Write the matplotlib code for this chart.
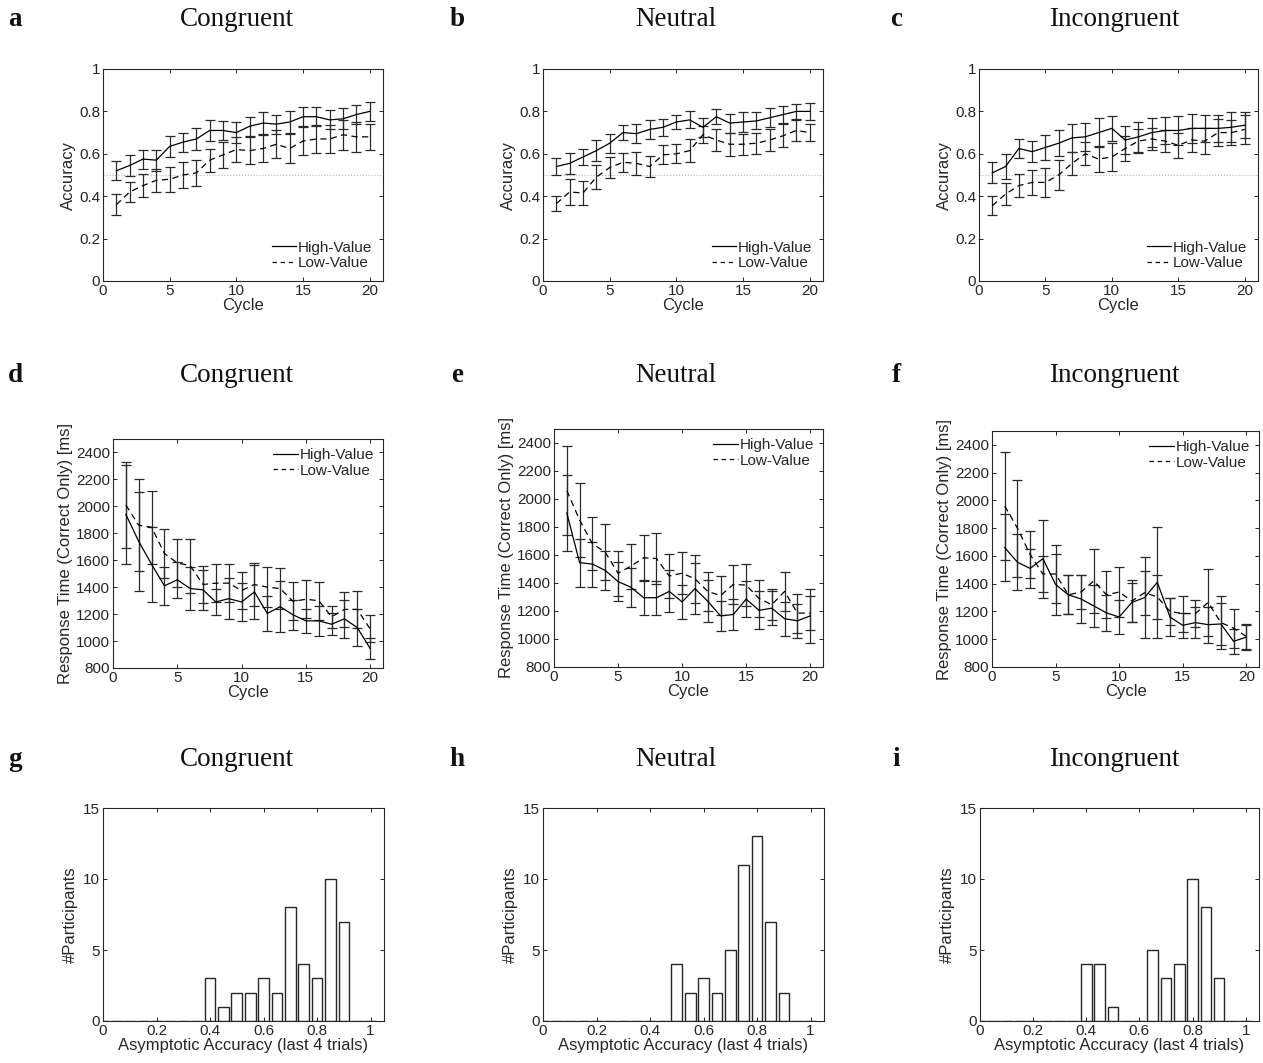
import matplotlib
matplotlib.use("Agg")
import matplotlib.pyplot as plt
import numpy as np

plt.rcParams['font.family'] = ['Liberation Sans', 'DejaVu Sans']

W, H = 1263, 1063
cycles = list(range(1, 21))

# ---------------- Accuracy data ----------------
acc_cong_high = [0.52, 0.545, 0.575, 0.57, 0.635, 0.655, 0.67, 0.71, 0.71, 0.70,
                 0.73, 0.745, 0.74, 0.75, 0.775, 0.775, 0.76, 0.765, 0.785, 0.80]
acc_cong_high_err = [0.045, 0.05, 0.045, 0.05, 0.05, 0.045, 0.05, 0.05, 0.045, 0.05,
                     0.045, 0.05, 0.045, 0.05, 0.045, 0.045, 0.045, 0.05, 0.045, 0.045]
acc_cong_low = [0.36, 0.42, 0.45, 0.475, 0.48, 0.50, 0.51, 0.57, 0.595, 0.62,
                0.615, 0.625, 0.645, 0.625, 0.66, 0.67, 0.67, 0.69, 0.68, 0.68]
acc_cong_low_err = [0.05, 0.045, 0.055, 0.055, 0.06, 0.06, 0.06, 0.055, 0.06, 0.06,
                    0.065, 0.065, 0.065, 0.07, 0.065, 0.065, 0.065, 0.07, 0.07, 0.06]

acc_neut_high = [0.54, 0.555, 0.585, 0.615, 0.65, 0.70, 0.695, 0.715, 0.725, 0.75,
                 0.76, 0.725, 0.775, 0.745, 0.75, 0.755, 0.77, 0.785, 0.80, 0.80]
acc_neut_high_err = [0.04, 0.05, 0.04, 0.05, 0.045, 0.035, 0.045, 0.045, 0.04, 0.035,
                     0.04, 0.045, 0.035, 0.045, 0.045, 0.04, 0.045, 0.04, 0.035, 0.04]
acc_neut_low = [0.365, 0.42, 0.415, 0.49, 0.535, 0.56, 0.555, 0.54, 0.595, 0.60,
                0.615, 0.69, 0.665, 0.645, 0.645, 0.65, 0.665, 0.685, 0.71, 0.70]
acc_neut_low_err = [0.035, 0.06, 0.055, 0.055, 0.05, 0.045, 0.055, 0.05, 0.045, 0.045,
                    0.055, 0.04, 0.05, 0.055, 0.05, 0.05, 0.05, 0.055, 0.05, 0.04]

acc_inc_high = [0.51, 0.54, 0.625, 0.61, 0.63, 0.65, 0.675, 0.68, 0.70, 0.72,
                0.665, 0.68, 0.70, 0.71, 0.71, 0.72, 0.72, 0.72, 0.725, 0.735]
acc_inc_high_err = [0.05, 0.06, 0.045, 0.05, 0.06, 0.06, 0.065, 0.065, 0.07, 0.06,
                    0.065, 0.07, 0.07, 0.065, 0.07, 0.07, 0.065, 0.065, 0.07, 0.06]
acc_inc_low = [0.355, 0.41, 0.45, 0.465, 0.465, 0.50, 0.555, 0.60, 0.575, 0.585,
               0.625, 0.66, 0.67, 0.66, 0.64, 0.665, 0.66, 0.70, 0.70, 0.715]
acc_inc_low_err = [0.045, 0.05, 0.055, 0.06, 0.07, 0.07, 0.055, 0.055, 0.06, 0.065,
                   0.06, 0.055, 0.05, 0.05, 0.06, 0.055, 0.06, 0.065, 0.06, 0.07]

# ---------------- Response time data ----------------
rt_cong_high = [1940, 1740, 1570, 1410, 1455, 1390, 1380, 1290, 1315, 1290,
                1365, 1205, 1255, 1195, 1150, 1150, 1125, 1165, 1100, 945]
rt_cong_high_err = [370, 370, 280, 140, 135, 160, 150, 100, 150, 140,
                    200, 130, 190, 110, 90, 110, 80, 140, 140, 80]
rt_cong_low = [2010, 1860, 1845, 1650, 1580, 1560, 1420, 1430, 1430, 1375,
               1420, 1400, 1390, 1295, 1310, 1300, 1180, 1235, 1235, 1090]
rt_cong_low_err = [320, 340, 270, 180, 180, 200, 140, 140, 140, 140,
                   160, 150, 150, 140, 140, 140, 80, 130, 140, 100]

rt_neut_high = [1900, 1545, 1535, 1490, 1410, 1370, 1295, 1295, 1340, 1265,
                1360, 1270, 1165, 1175, 1285, 1205, 1220, 1145, 1130, 1165]
rt_neut_high_err = [270, 170, 160, 140, 140, 140, 120, 120, 150, 120,
                    180, 150, 110, 110, 130, 135, 120, 120, 120, 190]
rt_neut_low = [2060, 1850, 1680, 1620, 1470, 1520, 1580, 1575, 1450, 1470,
               1430, 1340, 1310, 1390, 1385, 1290, 1245, 1340, 1185, 1185]
rt_neut_low_err = [320, 265, 190, 200, 160, 160, 160, 180, 160, 150,
                   170, 140, 140, 140, 150, 130, 110, 140, 140, 120]

rt_inc_high = [1660, 1555, 1510, 1580, 1395, 1320, 1290, 1240, 1190, 1160,
               1265, 1300, 1410, 1160, 1100, 1120, 1105, 1110, 985, 1015]
rt_inc_high_err = [240, 200, 140, 280, 220, 140, 170, 150, 130, 120,
                   140, 290, 400, 140, 90, 110, 130, 150, 90, 90]
rt_inc_low = [1960, 1800, 1610, 1470, 1470, 1320, 1340, 1420, 1320, 1340,
              1275, 1335, 1305, 1200, 1185, 1185, 1265, 1120, 1080, 1020]
rt_inc_low_err = [390, 350, 170, 130, 210, 140, 120, 230, 170, 180,
                  150, 160, 160, 100, 130, 100, 240, 190, 140, 90]

# ---------------- Histogram data ----------------
bin_centers = [0.00, 0.05, 0.10, 0.15, 0.20, 0.25, 0.30, 0.35, 0.40, 0.45, 0.50,
               0.55, 0.60, 0.65, 0.70, 0.75, 0.80, 0.85, 0.90, 0.95, 1.00]
hist_cong = [0, 0, 0, 0, 0, 0, 0, 0, 3, 1, 2, 2, 3, 2, 8, 4, 3, 10, 7, 0, 0]
hist_neut = [0, 0, 0, 0, 0, 0, 0, 0, 0, 0, 4, 2, 3, 2, 5, 11, 13, 7, 2, 0, 0]
hist_inc = [0, 0, 0, 0, 0, 0, 0, 0, 4, 4, 1, 0, 0, 5, 3, 4, 10, 8, 3, 0, 0]

titles = ["Congruent", "Neutral", "Incongruent"]
letters = ["a", "b", "c", "d", "e", "f", "g", "h", "i"]

DARK = "#262626"
DASH = (0, (5, 3.5))
fig = plt.figure(figsize=(W / 100, H / 100), dpi=100)


def add_ax(l, t, r, b):
    return fig.add_axes([l / W, 1 - b / H, (r - l) / W, (b - t) / H])


def style(ax):
    ax.tick_params(direction='in', top=True, right=True, labelsize=11,
                   colors=DARK, length=3, width=0.7, pad=2)
    for s in ax.spines.values():
        s.set_color(DARK)
        s.set_linewidth(0.8)


eb_kw = dict(color='black', ecolor='#2a2a2a', elinewidth=0.9, capsize=3.5,
             capthick=0.9, linewidth=0.9)


def add_legend(ax, loc, pad):
    h1 = plt.Line2D([], [], color='black', lw=0.9, linestyle='-')
    h2 = plt.Line2D([], [], color='black', lw=0.9, linestyle=(0, (3.5, 3)))
    leg = ax.legend([h1, h2], ['High-Value', 'Low-Value'], loc=loc,
                    frameon=False, fontsize=11, handlelength=1.6, handletextpad=0.1,
                    labelspacing=0.1, borderaxespad=pad)
    for t in leg.get_texts():
        t.set_color(DARK)


LBL = 12

# ---------- Row 1: accuracy ----------
acc_sets = [
    (acc_cong_high, acc_cong_high_err, acc_cong_low, acc_cong_low_err),
    (acc_neut_high, acc_neut_high_err, acc_neut_low, acc_neut_low_err),
    (acc_inc_high, acc_inc_high_err, acc_inc_low, acc_inc_low_err),
]
row1_pos = [(103, 69, 383, 281), (543, 69, 823, 281), (979, 69, 1258, 281)]
for (hi, hie, lo, loe), pos in zip(acc_sets, row1_pos):
    ax = add_ax(*pos)
    ax.axhline(0.5, color='#b8b8b8', linestyle=':', linewidth=0.8)
    ax.errorbar(cycles, hi, yerr=hie, linestyle='-', **eb_kw)
    ax.errorbar(cycles, lo, yerr=loe, linestyle=DASH, **eb_kw)
    ax.set_xlim(0, 21)
    ax.set_ylim(0, 1)
    ax.set_xticks([0, 5, 10, 15, 20])
    ax.set_yticks([0, 0.2, 0.4, 0.6, 0.8, 1])
    ax.set_yticklabels(["0", "0.2", "0.4", "0.6", "0.8", "1"])
    ax.set_xlabel("Cycle", fontsize=LBL, color=DARK, labelpad=0)
    ax.set_ylabel("Accuracy", fontsize=LBL, color=DARK, labelpad=2)
    style(ax)
    add_legend(ax, 'lower right', 0.3)

# ---------- Row 2: response time ----------
rt_sets = [
    (rt_cong_high, rt_cong_high_err, rt_cong_low, rt_cong_low_err),
    (rt_neut_high, rt_neut_high_err, rt_neut_low, rt_neut_low_err),
    (rt_inc_high, rt_inc_high_err, rt_inc_low, rt_inc_low_err),
]
row2_pos = [(113, 439, 383, 668), (554, 429, 823, 667), (992, 431, 1259, 667)]
for (hi, hie, lo, loe), pos in zip(rt_sets, row2_pos):
    ax = add_ax(*pos)
    ax.errorbar(cycles, hi, yerr=hie, linestyle='-', **eb_kw)
    ax.errorbar(cycles, lo, yerr=loe, linestyle=DASH, **eb_kw)
    ax.set_xlim(0, 21)
    ax.set_ylim(800, 2500)
    ax.set_xticks([0, 5, 10, 15, 20])
    ax.set_yticks(list(range(800, 2401, 200)))
    ax.set_xlabel("Cycle", fontsize=LBL, color=DARK, labelpad=0)
    ax.set_ylabel("Response Time (Correct Only) [ms]", fontsize=LBL, color=DARK, labelpad=2)
    style(ax)
    add_legend(ax, 'upper right', 0.2)

# ---------- Row 3: histograms ----------
hist_sets = [hist_cong, hist_neut, hist_inc]
row3_pos = [(103, 808, 384, 1021), (543, 808, 824, 1021), (980, 808, 1259, 1021)]
for counts, pos in zip(hist_sets, row3_pos):
    ax = add_ax(*pos)
    ax.bar(bin_centers, counts, width=0.04, facecolor='white', edgecolor=DARK,
           linewidth=1.0)
    ax.set_xlim(0, 1.05)
    ax.set_ylim(0, 15)
    ax.set_xticks([0, 0.2, 0.4, 0.6, 0.8, 1])
    ax.set_xticklabels(["0", "0.2", "0.4", "0.6", "0.8", "1"])
    ax.set_yticks([0, 5, 10, 15])
    ax.set_xlabel("Asymptotic Accuracy (last 4 trials)", fontsize=LBL, color=DARK, labelpad=0)
    ax.set_ylabel("#Participants", fontsize=LBL, color=DARK, labelpad=4)
    style(ax)

# ---------- Titles and panel letters ----------
title_x = [237, 676, 1114]
letter_x = [15, 457, 896]
row_y = [20, 376, 760]
for r, y in enumerate(row_y):
    for c in range(3):
        fig.text(title_x[c] / W, 1 - y / H, titles[c], ha='center', va='center',
                 fontsize=19.5, family='Liberation Serif', color='#111111')
        fig.text(letter_x[c] / W, 1 - y / H, letters[r * 3 + c], ha='center', va='center',
                 fontsize=19.5, family='Liberation Serif', fontweight='bold', color='#111111')

fig.savefig("out.png", dpi=100)
